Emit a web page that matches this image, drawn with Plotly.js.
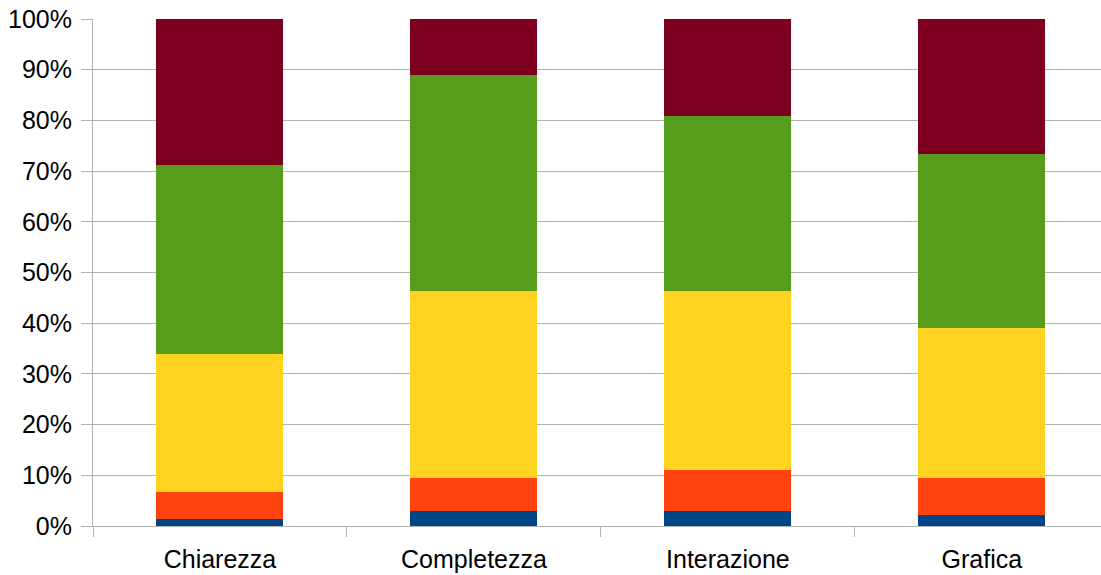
<!DOCTYPE html>
<html>
<head>
<meta charset="utf-8">
<script src="https://cdn.plot.ly/plotly-3.0.1.min.js"></script>
<style>html,body{margin:0;padding:0;background:#fff;}#chart{width:1101px;height:575px;}</style>
</head>
<body>
<div id="chart"></div>
<script>
const categories = ["Chiarezza", "Completezza", "Interazione", "Grafica"];
const serie1 = [1.4, 3.0, 3.0, 2.2];
const serie2 = [5.3, 6.5, 8.0, 7.3];
const serie3 = [27.2, 36.9, 35.4, 29.6];
const serie4 = [37.3, 42.6, 34.5, 34.3];
const serie5 = [28.8, 11.0, 19.1, 26.6];
const yTickVals = [0, 10, 20, 30, 40, 50, 60, 70, 80, 90, 100];
const yTickText = ["0%", "10%", "20%", "30%", "40%", "50%", "60%", "70%", "80%", "90%", "100%"];

const colors = ["#004586", "#ff420e", "#ffd320", "#579d1c", "#7e0021"];
const series = [serie1, serie2, serie3, serie4, serie5];
const traces = series.map((s, i) => ({
  type: "bar",
  x: categories,
  y: s,
  name: "Serie " + (i + 1),
  marker: {color: colors[i], line: {width: 0}},
  width: 0.5,
  hoverinfo: "x+y"
}));

const layout = {
  width: 1101,
  height: 575,
  barmode: "stack",
  barnorm: "percent",
  showlegend: false,
  paper_bgcolor: "#ffffff",
  plot_bgcolor: "#ffffff",
  margin: {l: 93, r: 0, t: 19, b: 49, pad: 0},
  font: {family: "Liberation Sans, Arial, sans-serif", size: 25, color: "#000000"},
  xaxis: {
    type: "category",
    range: [-0.5, 3.469],
    showgrid: false,
    showline: true,
    linecolor: "#b3b3b3",
    linewidth: 1,
    ticks: "outside",
    tickson: "boundaries",
    ticklen: 10,
    tickcolor: "#b3b3b3",
    tickwidth: 1,
    ticklabelstandoff: 11,
    tickfont: {family: "Liberation Sans, Arial, sans-serif", size: 25, color: "#000000"},
    zeroline: false,
    fixedrange: true
  },
  yaxis: {
    range: [0, 100],
    tickvals: yTickVals,
    ticktext: yTickText,
    showgrid: true,
    gridcolor: "#b3b3b3",
    gridwidth: 1,
    showline: true,
    linecolor: "#b3b3b3",
    linewidth: 1,
    ticks: "outside",
    ticklen: 11,
    tickcolor: "#b3b3b3",
    tickwidth: 1,
    ticklabelstandoff: 4,
    tickfont: {family: "Liberation Sans, Arial, sans-serif", size: 25, color: "#000000"},
    zeroline: false,
    fixedrange: true
  }
};

Plotly.newPlot("chart", traces, layout, {displayModeBar: false, staticPlot: true});
</script>
</body>
</html>
